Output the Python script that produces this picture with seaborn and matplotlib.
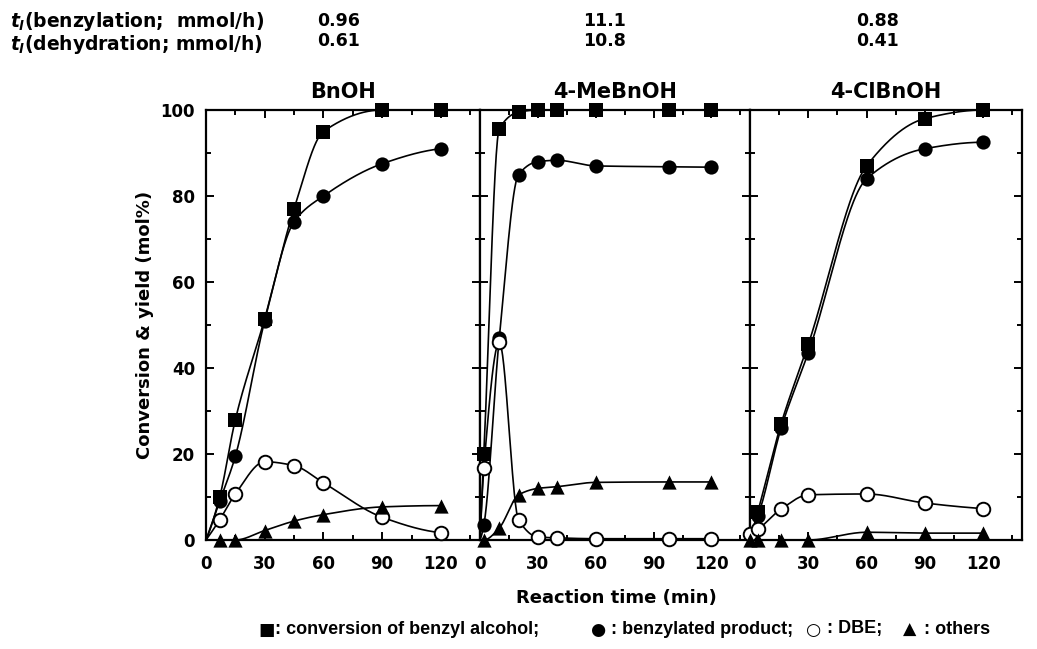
import numpy as np
import pandas as pd
import matplotlib
matplotlib.use("Agg")
import matplotlib.pyplot as plt
from matplotlib.ticker import MultipleLocator
import seaborn as sns

# ---------------- data ----------------
PANELS = ["BnOH", "4-MeBnOH", "4-ClBnOH"]
BENZYLATION_RATE = ["0.96", "11.1", "0.88"]
DEHYDRATION_RATE = ["0.61", "10.8", "0.41"]

BNOH_T = [7, 15, 30, 45, 60, 90, 120]
BNOH_CONV = [10, 28, 51.5, 77, 95, 100, 100]
BNOH_BENZ = [9, 19.5, 51, 74, 80, 87.5, 91]
BNOH_DBE = [4.7, 10.7, 18.2, 17.3, 13.3, 5.3, 1.7]
BNOH_OTH = [0, 0, 2.2, 4.4, 5.9, 7.7, 8.0]

ME_T = [2, 10, 20, 30, 40, 60, 98, 120]
ME_CONV = [20, 95.6, 99.5, 100, 100, 100, 100, 100]
ME_BENZ = [3.5, 47, 85, 88, 88.3, 87, 86.8, 86.7]
ME_DBE = [16.8, 46, 4.7, 0.7, 0.5, 0.3, 0.3, 0.3]
ME_OTH = [0, 2.8, 10.5, 12, 12.4, 13.4, 13.5, 13.5]

CL_T = [0, 4, 16, 30, 60, 90, 120]
CL_CONV = [np.nan, 6.5, 27, 45.5, 87, 98, 100]
CL_BENZ = [1.5, 5.5, 26, 43.5, 84, 91, 92.5]
CL_DBE = [1.5, 2.5, 7.2, 10.5, 10.7, 8.6, 7.3]
CL_OTH = [0, 0, 0, 0, 1.8, 1.6, 1.6]

SERIES = ["conv", "benz", "dbe", "oth"]
PANEL_DATA = [
    (BNOH_T, [BNOH_CONV, BNOH_BENZ, BNOH_DBE, BNOH_OTH]),
    (ME_T, [ME_CONV, ME_BENZ, ME_DBE, ME_OTH]),
    (CL_T, [CL_CONV, CL_BENZ, CL_DBE, CL_OTH]),
]

LEGEND_GLYPHS = ["\u25a0", "\u25cf", "\u25cb", "\u25b2"]
LEGEND_LABELS = [": conversion of benzyl alcohol;", ": benzylated product;", ": DBE;", ": others"]


# ---------------- helpers ----------------
def pchip(x, y, xs):
    x = np.asarray(x, float)
    y = np.asarray(y, float)
    h = np.diff(x)
    d = np.diff(y) / h
    n = len(x)
    m = np.zeros(n)
    for k in range(1, n - 1):
        if d[k - 1] * d[k] > 0:
            w1 = 2 * h[k] + h[k - 1]
            w2 = h[k] + 2 * h[k - 1]
            m[k] = (w1 + w2) / (w1 / d[k - 1] + w2 / d[k])

    def end(h0, h1, d0, d1):
        s = ((2 * h0 + h1) * d0 - h0 * d1) / (h0 + h1)
        if np.sign(s) != np.sign(d0):
            return 0.0
        if np.sign(d0) != np.sign(d1) and abs(s) > abs(3 * d0):
            return 3 * d0
        return s

    m[0] = end(h[0], h[1], d[0], d[1])
    m[-1] = end(h[-1], h[-2], d[-1], d[-2])
    idx = np.clip(np.searchsorted(x, xs) - 1, 0, n - 2)
    t = (xs - x[idx]) / h[idx]
    h00 = 2 * t**3 - 3 * t**2 + 1
    h10 = t**3 - 2 * t**2 + t
    h01 = -2 * t**3 + 3 * t**2
    h11 = t**3 - t**2
    return h00 * y[idx] + h10 * h[idx] * m[idx] + h01 * y[idx + 1] + h11 * h[idx] * m[idx + 1]


def curve(t, v):
    t = np.asarray(t, float)
    v = np.asarray(v, float)
    ok = ~np.isnan(v)
    t, v = t[ok], v[ok]
    if t[0] > 0:
        t = np.r_[0.0, t]
        v = np.r_[0.0, v]
    xs = np.linspace(t[0], t[-1], 400)
    return xs, pchip(t, v, xs)


# ---------------- style ----------------
sns.set_style("ticks")
plt.rcParams["font.family"] = ["DejaVu Sans"]
plt.rcParams["font.weight"] = "bold"
for k in ["text.color", "axes.labelcolor", "xtick.color", "ytick.color", "axes.edgecolor"]:
    plt.rcParams[k] = "black"
plt.rcParams["mathtext.fontset"] = "custom"
plt.rcParams["mathtext.it"] = "DejaVu Sans:italic:bold"
plt.rcParams["mathtext.rm"] = "DejaVu Sans:bold"

W, H = 1037, 649
fig = plt.figure(figsize=(W / 100, H / 100), dpi=100)

edges = [(206, 480), (480, 750), (750, 1022)]
top_px, bot_px = 110, 540

MARK = {
    "conv": dict(marker="s", s=95, color="black", edgecolor="black", linewidth=0),
    "benz": dict(marker="o", s=105, color="black", edgecolor="black", linewidth=0),
    "dbe": dict(marker="o", s=95, color="white", edgecolor="black", linewidth=1.4),
    "oth": dict(marker="^", s=105, color="black", edgecolor="black", linewidth=0),
}

for i, (name, (T, vals)) in enumerate(zip(PANELS, PANEL_DATA)):
    l, r = edges[i]
    ax = fig.add_axes([l / W, (H - bot_px) / H, (r - l) / W, (bot_px - top_px) / H])
    rows = []
    for key, v in zip(SERIES, vals):
        xs, ys = curve(T, v)
        rows.append(pd.DataFrame({"t": xs, "v": ys, "series": key}))
    cdf = pd.concat(rows, ignore_index=True)
    sns.lineplot(data=cdf, x="t", y="v", units="series", estimator=None, sort=False,
                 color="black", linewidth=1.2, ax=ax, zorder=2)
    for key, v in zip(SERIES, vals):
        sdf = pd.DataFrame({"t": T, "v": v}).dropna()
        sns.scatterplot(data=sdf, x="t", y="v", ax=ax, clip_on=False, zorder=3,
                        legend=False, **MARK[key])

    ax.set_xlim(0, 140)
    ax.set_ylim(0, 100)
    ax.xaxis.set_major_locator(MultipleLocator(30))
    ax.xaxis.set_minor_locator(MultipleLocator(15))
    ax.yaxis.set_major_locator(MultipleLocator(20))
    ax.yaxis.set_minor_locator(MultipleLocator(10))
    ax.set_xticks([0, 30, 60, 90, 120])
    ax.tick_params(which="both", direction="in", top=True, right=True, width=1.4, color="black")
    ax.tick_params(which="major", length=6, labelsize=12, pad=8, labelcolor="black")
    ax.tick_params(which="minor", length=3.5)
    ax.tick_params(axis="x", which="major", pad=11)
    for lab in ax.get_xticklabels() + ax.get_yticklabels():
        lab.set_fontweight("bold")
    if i > 0:
        ax.set_yticklabels([])
    for sp in ax.spines.values():
        sp.set_linewidth(1.6)
        sp.set_color("black")
    ax.set_xlabel("")
    ax.set_ylabel("")
    ax.set_title(name, fontsize=15, fontweight="bold", pad=9, color="black")

# axis labels
fig.text(616 / W, 1 - 598 / H, "Reaction time (min)", ha="center", va="center",
         fontsize=13, fontweight="bold")
fig.text(145 / W, 1 - 325 / H, "Conversion & yield (mol%)", ha="center", va="center",
         rotation=90, fontsize=13, fontweight="bold")

# header rows (two-line blocks)
fig.text(10 / W, 1 - 10 / H,
         "$t_l$(benzylation;  mmol/h)\n$t_l$(dehydration; mmol/h)",
         ha="left", va="top", fontsize=13.5, fontweight="bold", linespacing=1.0)
for x, a, b in zip([317, 583, 856], BENZYLATION_RATE, DEHYDRATION_RATE):
    fig.text(x / W, 1 - 12 / H, a + "\n" + b, ha="left", va="top", fontsize=12.5,
             fontweight="bold", linespacing=1.12)

# legend line
GLYPH_X = [267, 598, 814, 910]
TEXT_X = [275, 611, 827, 924]
for gx, tx, g, txt in zip(GLYPH_X, TEXT_X, LEGEND_GLYPHS, LEGEND_LABELS):
    fig.text(gx / W, 1 - 630 / H, g, ha="center", va="center", fontsize=12.5,
             family="DejaVu Sans")
    fig.text(tx / W, 1 - 629 / H, txt, ha="left", va="center", fontsize=13,
             fontweight="bold", family=["Liberation Sans", "DejaVu Sans"])

fig.savefig("out.png", dpi=100)
